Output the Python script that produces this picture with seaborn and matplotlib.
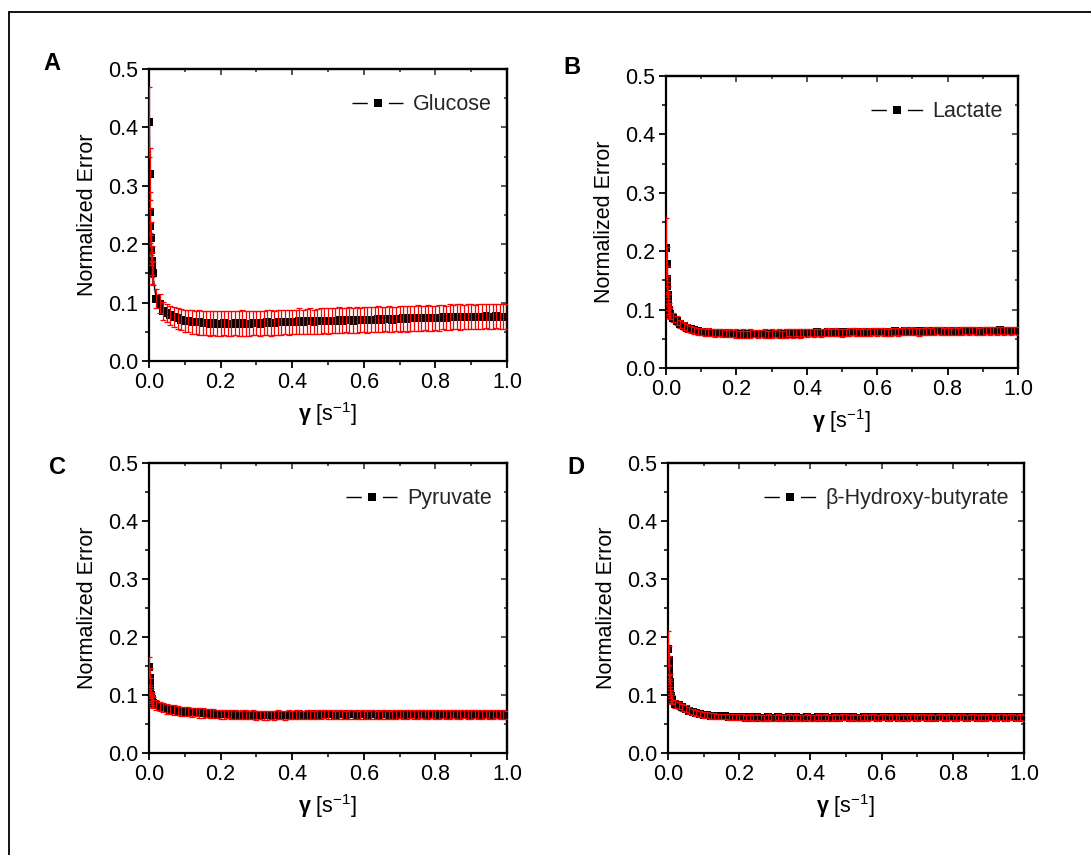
import matplotlib
matplotlib.use("Agg")
import matplotlib.pyplot as plt
import seaborn as sns
import pandas as pd
from matplotlib.ticker import MultipleLocator
from matplotlib.lines import Line2D
from matplotlib.legend_handler import HandlerTuple

# ---------------- data ----------------
GAMMA = [0.001, 0.002, 0.003, 0.004, 0.005, 0.006, 0.007, 0.008, 0.009,
         0.01, 0.02, 0.03, 0.04, 0.05, 0.06, 0.07, 0.08, 0.09, 0.10,
         0.11, 0.12, 0.13, 0.14, 0.15, 0.16, 0.17, 0.18, 0.19, 0.20,
         0.21, 0.22, 0.23, 0.24, 0.25, 0.26, 0.27, 0.28, 0.29, 0.30,
         0.31, 0.32, 0.33, 0.34, 0.35, 0.36, 0.37, 0.38, 0.39, 0.40,
         0.41, 0.42, 0.43, 0.44, 0.45, 0.46, 0.47, 0.48, 0.49, 0.50,
         0.51, 0.52, 0.53, 0.54, 0.55, 0.56, 0.57, 0.58, 0.59, 0.60,
         0.61, 0.62, 0.63, 0.64, 0.65, 0.66, 0.67, 0.68, 0.69, 0.70,
         0.71, 0.72, 0.73, 0.74, 0.75, 0.76, 0.77, 0.78, 0.79, 0.80,
         0.81, 0.82, 0.83, 0.84, 0.85, 0.86, 0.87, 0.88, 0.89, 0.90,
         0.91, 0.92, 0.93, 0.94, 0.95, 0.96, 0.97, 0.98, 0.99, 1.00]

glucose = [0.410, 0.320, 0.255, 0.232, 0.210, 0.190, 0.172, 0.165, 0.152,
           0.150, 0.107, 0.098, 0.086, 0.082, 0.078, 0.075, 0.073, 0.071, 0.069,
           0.068, 0.067, 0.066, 0.066, 0.065, 0.065, 0.064, 0.065, 0.064, 0.064,
           0.065, 0.064, 0.064, 0.065, 0.064, 0.065, 0.064, 0.064, 0.065, 0.065,
           0.064, 0.065, 0.066, 0.065, 0.065, 0.066, 0.066, 0.067, 0.066, 0.067,
           0.067, 0.068, 0.067, 0.068, 0.068, 0.067, 0.068, 0.068, 0.069, 0.068,
           0.069, 0.069, 0.070, 0.069, 0.070, 0.070, 0.069, 0.070, 0.070, 0.071,
           0.070, 0.071, 0.071, 0.072, 0.071, 0.072, 0.072, 0.071, 0.072, 0.072,
           0.073, 0.072, 0.073, 0.073, 0.074, 0.073, 0.074, 0.074, 0.073, 0.074,
           0.074, 0.075, 0.074, 0.075, 0.075, 0.076, 0.075, 0.075, 0.076, 0.076,
           0.075, 0.076, 0.076, 0.077, 0.076, 0.076, 0.077, 0.076, 0.076, 0.076]
glucose_err = [0.060, 0.045, 0.035, 0.030, 0.028, 0.026, 0.025, 0.022, 0.020,
               0.020, 0.016, 0.016, 0.015, 0.015, 0.016, 0.017, 0.018, 0.018, 0.019,
               0.019, 0.020, 0.020, 0.021, 0.020, 0.021, 0.021, 0.020, 0.021, 0.022,
               0.021, 0.021, 0.022, 0.021, 0.021, 0.022, 0.021, 0.022, 0.021, 0.021,
               0.022, 0.021, 0.021, 0.022, 0.021, 0.022, 0.021, 0.021, 0.022, 0.021,
               0.021, 0.022, 0.021, 0.021, 0.022, 0.021, 0.021, 0.022, 0.021, 0.022,
               0.021, 0.021, 0.022, 0.021, 0.021, 0.022, 0.021, 0.022, 0.021, 0.021,
               0.022, 0.021, 0.021, 0.022, 0.021, 0.021, 0.022, 0.021, 0.021, 0.022,
               0.021, 0.022, 0.021, 0.021, 0.022, 0.021, 0.021, 0.022, 0.021, 0.021,
               0.022, 0.021, 0.021, 0.022, 0.021, 0.021, 0.022, 0.021, 0.021, 0.022,
               0.021, 0.021, 0.022, 0.021, 0.021, 0.022, 0.021, 0.021, 0.022, 0.021]

lactate = [0.205, 0.178, 0.152, 0.140, 0.125, 0.113, 0.105, 0.100, 0.096,
           0.093, 0.086, 0.081, 0.076, 0.072, 0.068, 0.066, 0.065, 0.063, 0.062,
           0.061, 0.061, 0.060, 0.060, 0.060, 0.060, 0.059, 0.060, 0.059, 0.059,
           0.058, 0.059, 0.058, 0.059, 0.059, 0.058, 0.059, 0.059, 0.058, 0.059,
           0.059, 0.059, 0.058, 0.059, 0.060, 0.059, 0.060, 0.059, 0.060, 0.060,
           0.060, 0.060, 0.061, 0.060, 0.060, 0.061, 0.060, 0.061, 0.061, 0.060,
           0.061, 0.061, 0.062, 0.061, 0.061, 0.062, 0.061, 0.062, 0.062, 0.061,
           0.062, 0.062, 0.061, 0.062, 0.063, 0.062, 0.062, 0.063, 0.062, 0.063,
           0.063, 0.062, 0.063, 0.063, 0.062, 0.063, 0.064, 0.063, 0.063, 0.064,
           0.063, 0.064, 0.063, 0.064, 0.064, 0.063, 0.064, 0.064, 0.063, 0.064,
           0.064, 0.063, 0.064, 0.064, 0.065, 0.064, 0.064, 0.063, 0.064, 0.064]
lactate_err = [0.052, 0.030, 0.022, 0.018, 0.015, 0.013, 0.012, 0.011, 0.010,
               0.009, 0.008, 0.008, 0.007, 0.007, 0.007, 0.006, 0.006, 0.006, 0.006,
               0.006, 0.007, 0.006, 0.007, 0.006, 0.007, 0.006, 0.007, 0.006, 0.007,
               0.006, 0.007, 0.006, 0.007, 0.006, 0.007, 0.006, 0.007, 0.006, 0.007,
               0.006, 0.007, 0.006, 0.007, 0.006, 0.007, 0.006, 0.007, 0.006, 0.007,
               0.006, 0.007, 0.006, 0.007, 0.006, 0.007, 0.006, 0.007, 0.006, 0.007,
               0.006, 0.007, 0.006, 0.007, 0.006, 0.007, 0.006, 0.007, 0.006, 0.007,
               0.006, 0.007, 0.006, 0.007, 0.006, 0.007, 0.006, 0.007, 0.006, 0.007,
               0.006, 0.007, 0.006, 0.007, 0.006, 0.007, 0.006, 0.007, 0.006, 0.007,
               0.006, 0.007, 0.006, 0.007, 0.006, 0.007, 0.006, 0.007, 0.006, 0.007,
               0.006, 0.007, 0.006, 0.007, 0.006, 0.007, 0.006, 0.007, 0.006, 0.007]

pyruvate = [0.148, 0.130, 0.115, 0.106, 0.100, 0.096, 0.093, 0.091, 0.089,
            0.087, 0.083, 0.080, 0.078, 0.076, 0.075, 0.074, 0.073, 0.072, 0.071,
            0.071, 0.070, 0.070, 0.069, 0.069, 0.069, 0.068, 0.068, 0.068, 0.067,
            0.067, 0.067, 0.066, 0.067, 0.066, 0.066, 0.066, 0.065, 0.066, 0.065,
            0.066, 0.065, 0.065, 0.066, 0.065, 0.066, 0.066, 0.065, 0.066, 0.066,
            0.066, 0.067, 0.066, 0.066, 0.067, 0.066, 0.067, 0.066, 0.067, 0.067,
            0.067, 0.066, 0.067, 0.067, 0.066, 0.067, 0.067, 0.066, 0.067, 0.067,
            0.066, 0.067, 0.067, 0.066, 0.067, 0.067, 0.066, 0.067, 0.066, 0.067,
            0.067, 0.066, 0.067, 0.067, 0.066, 0.067, 0.067, 0.066, 0.067, 0.067,
            0.066, 0.067, 0.067, 0.066, 0.067, 0.067, 0.066, 0.067, 0.067, 0.066,
            0.067, 0.067, 0.066, 0.067, 0.067, 0.066, 0.067, 0.067, 0.066, 0.066]
pyruvate_err = [0.018, 0.016, 0.014, 0.012, 0.011, 0.010, 0.010, 0.009, 0.009,
                0.009, 0.008, 0.008, 0.008, 0.008, 0.008, 0.008, 0.008, 0.008, 0.008,
                0.008, 0.008, 0.007, 0.008, 0.008, 0.007, 0.008, 0.008, 0.007, 0.008,
                0.008, 0.007, 0.008, 0.008, 0.007, 0.008, 0.008, 0.007, 0.008, 0.008,
                0.007, 0.008, 0.008, 0.007, 0.008, 0.008, 0.007, 0.008, 0.008, 0.007,
                0.008, 0.008, 0.007, 0.008, 0.008, 0.007, 0.008, 0.008, 0.007, 0.008,
                0.008, 0.007, 0.008, 0.008, 0.007, 0.008, 0.008, 0.007, 0.008, 0.008,
                0.007, 0.008, 0.008, 0.007, 0.008, 0.008, 0.007, 0.008, 0.008, 0.007,
                0.008, 0.008, 0.007, 0.008, 0.008, 0.007, 0.008, 0.008, 0.007, 0.008,
                0.008, 0.007, 0.008, 0.008, 0.007, 0.008, 0.008, 0.007, 0.008, 0.008,
                0.007, 0.008, 0.008, 0.007, 0.008, 0.008, 0.007, 0.008, 0.008, 0.007]

bhb = [0.180, 0.160, 0.148, 0.135, 0.122, 0.112, 0.104, 0.099, 0.095,
       0.092, 0.085, 0.082, 0.079, 0.076, 0.073, 0.071, 0.069, 0.067, 0.066,
       0.065, 0.064, 0.064, 0.063, 0.063, 0.063, 0.062, 0.062, 0.062, 0.062,
       0.062, 0.061, 0.062, 0.061, 0.062, 0.061, 0.061, 0.062, 0.061, 0.061,
       0.062, 0.061, 0.061, 0.062, 0.061, 0.062, 0.061, 0.061, 0.062, 0.061,
       0.061, 0.062, 0.061, 0.062, 0.061, 0.061, 0.062, 0.061, 0.062, 0.062,
       0.061, 0.062, 0.061, 0.061, 0.062, 0.061, 0.062, 0.062, 0.061, 0.062,
       0.062, 0.061, 0.062, 0.062, 0.061, 0.062, 0.061, 0.062, 0.062, 0.061,
       0.062, 0.062, 0.061, 0.062, 0.061, 0.062, 0.062, 0.061, 0.062, 0.062,
       0.061, 0.062, 0.062, 0.061, 0.062, 0.062, 0.061, 0.062, 0.061, 0.062,
       0.062, 0.061, 0.062, 0.062, 0.061, 0.062, 0.062, 0.061, 0.062, 0.061]
bhb_err = [0.030, 0.025, 0.020, 0.016, 0.014, 0.012, 0.010, 0.009, 0.008,
           0.008, 0.007, 0.006, 0.006, 0.006, 0.006, 0.005, 0.005, 0.005, 0.005,
           0.005, 0.005, 0.005, 0.005, 0.005, 0.005, 0.005, 0.005, 0.005, 0.005,
           0.005, 0.005, 0.005, 0.005, 0.005, 0.005, 0.005, 0.005, 0.005, 0.005,
           0.005, 0.005, 0.005, 0.005, 0.005, 0.005, 0.005, 0.005, 0.005, 0.005,
           0.005, 0.005, 0.005, 0.005, 0.005, 0.005, 0.005, 0.005, 0.005, 0.005,
           0.005, 0.005, 0.005, 0.005, 0.005, 0.005, 0.005, 0.005, 0.005, 0.005,
           0.005, 0.005, 0.005, 0.005, 0.005, 0.005, 0.005, 0.005, 0.005, 0.005,
           0.005, 0.005, 0.005, 0.005, 0.005, 0.005, 0.005, 0.005, 0.005, 0.005,
           0.005, 0.005, 0.005, 0.005, 0.005, 0.005, 0.005, 0.005, 0.005, 0.005,
           0.005, 0.005, 0.005, 0.005, 0.005, 0.005, 0.005, 0.005, 0.005, 0.005]

PANEL_LETTERS = ["A", "B", "C", "D"]
SERIES_NAMES = ["Glucose", "Lactate", "Pyruvate", "\u03b2-Hydroxy-butyrate"]
SERIES = [glucose, lactate, pyruvate, bhb]
ERRORS = [glucose_err, lactate_err, pyruvate_err, bhb_err]
X_TICKS = [0.0, 0.2, 0.4, 0.6, 0.8, 1.0]
Y_TICKS = [0.0, 0.1, 0.2, 0.3, 0.4, 0.5]

# ---------------- style ----------------
sns.set_theme(style="ticks")
plt.rcParams['font.family'] = ['Liberation Sans', 'DejaVu Sans']
plt.rcParams['mathtext.fontset'] = 'custom'
plt.rcParams['mathtext.rm'] = 'Liberation Sans'
plt.rcParams['mathtext.it'] = 'Liberation Sans:italic'
plt.rcParams['mathtext.bf'] = 'Liberation Sans:bold'

FS = 15.5
W, H = 1091, 855
fig = plt.figure(figsize=(W / 100, H / 100), dpi=100)
fig.patch.set_facecolor('white')

# axes rectangles in pixels: left, top, right, bottom
rects_px = [(149, 69, 507, 361), (666, 76, 1018, 368),
            (149, 463, 507, 753), (668, 463, 1024, 753)]
letter_px = [(52, 63), (572, 68), (58, 467), (576, 467)]

for i in range(4):
    l, t, r, b = rects_px[i]
    ax = fig.add_axes([l / W, 1 - b / H, (r - l) / W, (b - t) / H])
    df = pd.DataFrame({"gamma": GAMMA, "value": SERIES[i]})
    sns.lineplot(data=df, x="gamma", y="value", ax=ax, color="black",
                 linewidth=1.0, marker="s", markersize=5.5, markeredgewidth=0,
                 markerfacecolor="black", zorder=2, legend=False)
    ax.errorbar(GAMMA, SERIES[i], yerr=ERRORS[i], fmt="none", ecolor="red",
                elinewidth=0.9, capsize=2.4, capthick=0.9, zorder=3)

    ax.set_xlim(0, 1.0)
    ax.set_ylim(0, 0.5)
    ax.set_xticks(X_TICKS)
    ax.set_yticks(Y_TICKS)
    ax.set_xticklabels([f"{v:.1f}" for v in X_TICKS])
    ax.set_yticklabels([f"{v:.1f}" for v in Y_TICKS])
    ax.xaxis.set_minor_locator(MultipleLocator(0.1))
    ax.yaxis.set_minor_locator(MultipleLocator(0.05))
    ax.tick_params(which="major", direction="out", length=5, width=1.3,
                   labelsize=FS, pad=3, colors="black")
    ax.tick_params(which="minor", direction="out", length=3, width=1.3)
    for sp in ax.spines.values():
        sp.set_visible(True)
        sp.set_linewidth(1.6)
        sp.set_color("black")

    # mirrored inward ticks on top and right
    top = ax.secondary_xaxis("top")
    top.set_xticks(X_TICKS)
    top.xaxis.set_minor_locator(MultipleLocator(0.1))
    top.tick_params(which="major", direction="in", length=4, width=1.1, labeltop=False)
    top.tick_params(which="minor", direction="in", length=2.5, width=1.1)
    top.spines["top"].set_linewidth(1.6)
    right = ax.secondary_yaxis("right")
    right.set_yticks(Y_TICKS)
    right.yaxis.set_minor_locator(MultipleLocator(0.05))
    right.tick_params(which="major", direction="in", length=4, width=1.1, labelright=False)
    right.tick_params(which="minor", direction="in", length=2.5, width=1.1)
    right.spines["right"].set_linewidth(1.6)

    ax.set_ylabel("Normalized Error", fontsize=FS, labelpad=7, color="black")
    ax.set_xlabel(r"$\mathbf{\gamma}$ [s$^{-1}$]", fontsize=FS, labelpad=5, color="black")

    seg_line = Line2D([], [], color="black", linewidth=1.0, dashes=(11, 15.2))
    mark = Line2D([], [], color="black", linestyle="none", marker="s",
                  markersize=5.5, markeredgewidth=0)
    ax.legend([(seg_line, mark)], [SERIES_NAMES[i]], loc="upper right",
              bbox_to_anchor=(1.0, 0.965), frameon=False, fontsize=FS,
              handlelength=2.4, handletextpad=0.45, borderaxespad=0.3,
              handler_map={tuple: HandlerTuple(ndivide=1)})

    lx, ly = letter_px[i]
    fig.text(lx / W, 1 - ly / H, PANEL_LETTERS[i], fontsize=17, fontweight="bold",
             ha="center", va="center", color="black")

# outer frame (top and left edges only)
fig.add_artist(Line2D([9 / W, 9 / W], [0, 1 - 12 / H], transform=fig.transFigure,
                      color="black", linewidth=1.3))
fig.add_artist(Line2D([9 / W, 1.0], [1 - 12 / H, 1 - 12 / H], transform=fig.transFigure,
                      color="black", linewidth=1.3))

fig.savefig("out.png", dpi=100, facecolor="white")
